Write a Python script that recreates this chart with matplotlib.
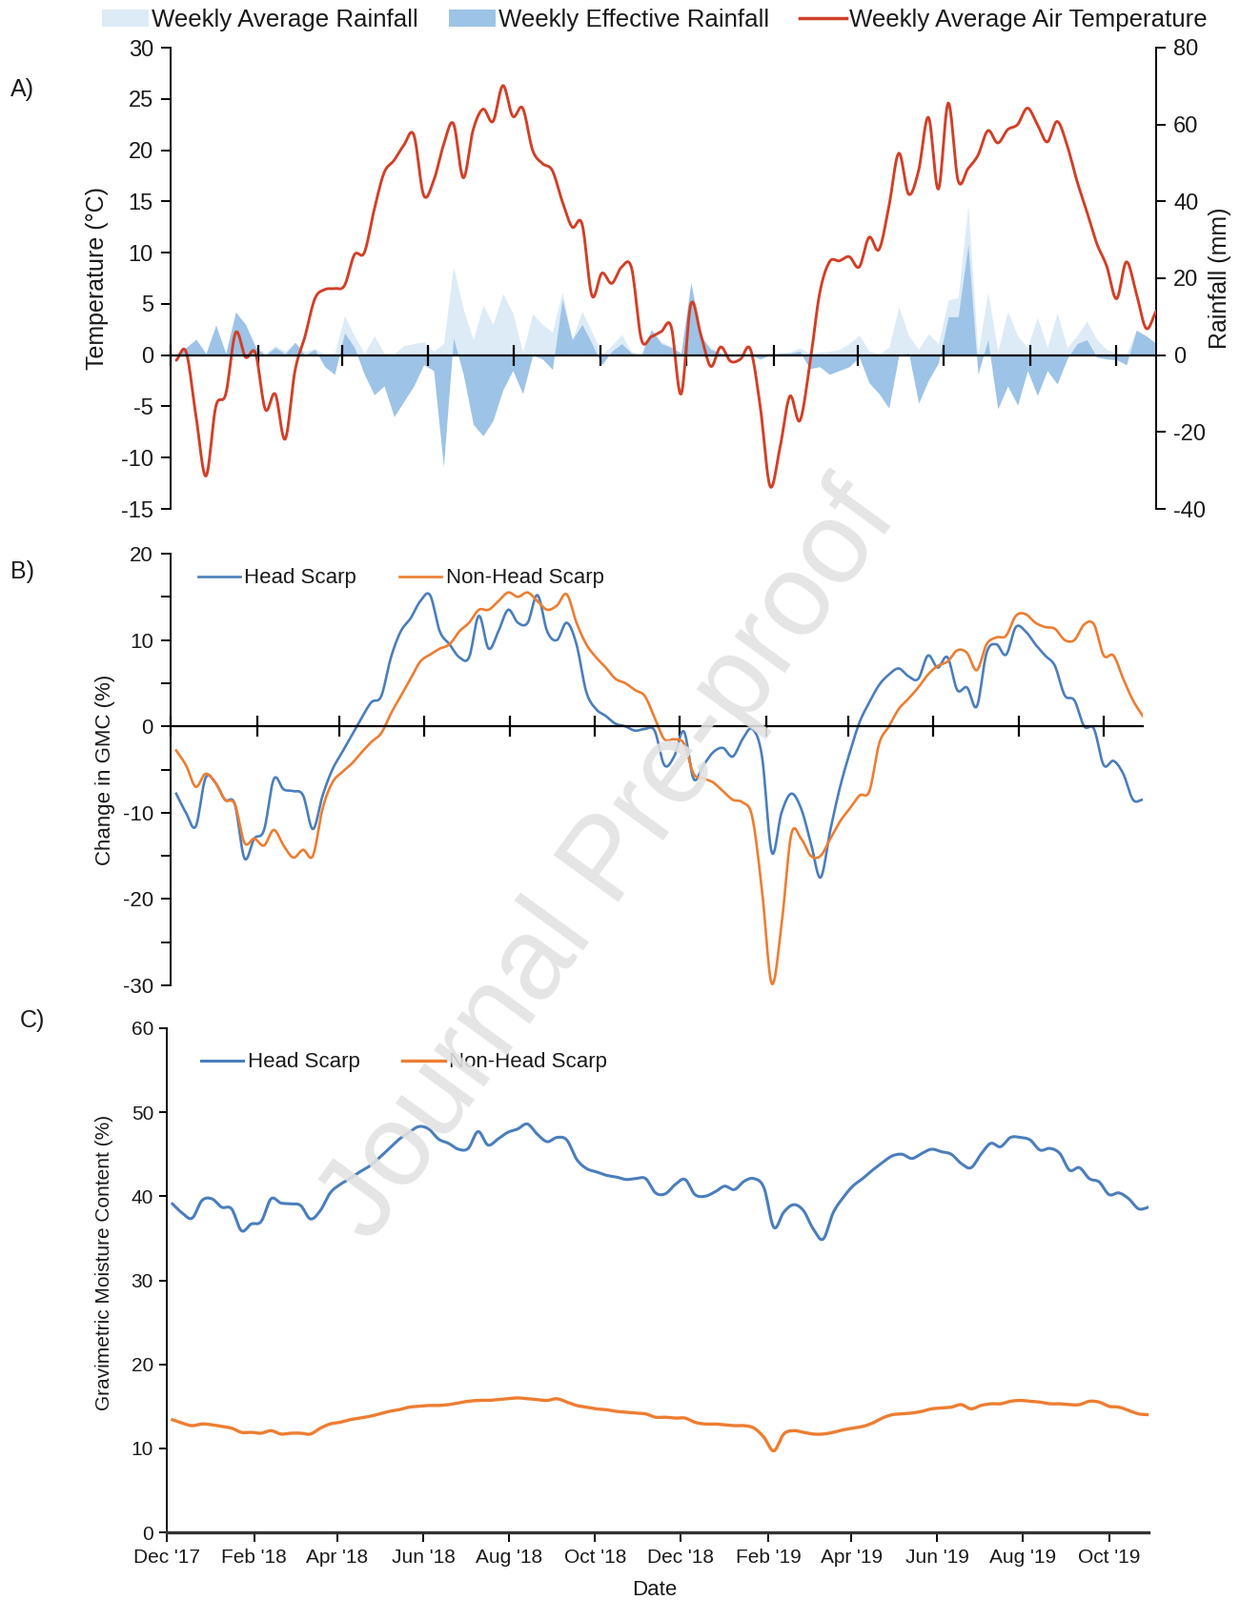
import numpy as np
import matplotlib
matplotlib.use('Agg')
import matplotlib.pyplot as plt
import matplotlib.dates as mdates
from matplotlib.patches import Patch
from matplotlib.lines import Line2D
import datetime as dt

plt.rcParams['font.family'] = ['Liberation Sans', 'DejaVu Sans']
plt.rcParams['axes.unicode_minus'] = False

# ---------------- data (weekly) ----------------
start_date = dt.date(2017, 12, 5)
n_weeks = 100
x_start = dt.date(2017, 12, 1)
x_end = dt.date(2019, 10, 29)

temp = [
    -0.5, 0.3, -6.0, -11.8, -5.0, -3.8, 2.2, -0.2, 0.2, -5.3,
    -3.8, -8.2, -1.5, 1.8, 5.5, 6.4, 6.5, 6.8, 9.8, 10.0,
    14.2, 17.8, 19.0, 20.5, 21.5, 15.6, 17.0, 20.5, 22.6, 17.3,
    22.0, 24.0, 22.8, 26.3, 23.3, 24.1, 20.0, 18.7, 18.0, 15.0,
    12.5, 12.8, 5.8, 8.0, 7.0, 8.6, 8.5, 1.5, 1.8, 2.3,
    2.8, -3.8, 5.0, 2.0, -1.1, 0.8, -0.6, -0.4, 0.6, -5.0,
    -12.8, -9.0, -4.0, -6.4, -1.0, 6.0, 9.1, 9.2, 9.6, 8.6,
    11.5, 10.3, 14.5, 19.7, 15.7, 18.0, 23.2, 16.2, 24.6, 17.0,
    18.2, 19.5, 21.9, 20.7, 22.0, 22.5, 24.1, 22.5, 20.8, 22.8,
    20.5, 17.0, 14.0, 10.9, 8.7, 5.5, 9.1, 6.0, 2.6, 4.3]

avg_rain = [
    0.5, 2.0, 4.1, 0.5, 7.8, 0.5, 11.2, 8.0, 2.5, 0.5,
    2.5, 1.0, 3.3, 1.0, 1.7, 0.3, 0.5, 10.3, 5.0, 0.5,
    5.0, 0.5, 0.3, 2.5, 3.0, 3.5, 1.0, 3.0, 23.0, 12.0,
    4.0, 13.0, 8.0, 16.0, 11.0, 0.8, 10.7, 8.0, 6.0, 16.5,
    4.0, 11.5, 6.0, 0.3, 2.5, 5.4, 0.8, 0.5, 6.6, 3.5,
    2.3, 0.5, 19.0, 5.0, 2.0, 0.5, 0.2, 0.1, 0.1, 0.2,
    0.5, 0.5, 0.8, 1.9, 0.5, 0.8, 1.0, 1.5, 3.0, 5.2,
    1.0, 0.3, 2.0, 12.6, 5.0, 1.5, 5.6, 3.0, 14.3, 15.0,
    39.0, 0.5, 16.4, 1.0, 11.4, 5.0, 2.0, 9.8, 2.0, 11.0,
    2.0, 5.0, 8.9, 4.0, 1.5, 0.5, 0.3, 6.5, 5.0, 3.0]

eff_rain = [
    0.0, 2.0, 4.1, 0.4, 7.8, 0.4, 11.2, 8.0, 2.0, 0.0,
    2.0, 0.3, 3.3, 0.0, 1.5, -3.0, -5.0, 5.8, 2.0, -5.0,
    -10.3, -8.0, -16.0, -12.0, -8.0, -2.5, -4.0, -29.0, 4.5, -5.0,
    -18.0, -21.0, -17.0, -9.0, -4.0, -10.0, 0.0, -1.0, -3.7, 14.5,
    4.0, 8.0, 3.0, -2.5, 1.0, 3.0, 0.5, 0.0, 6.6, 3.0,
    2.0, 0.5, 18.8, 4.8, 1.5, 0.5, 0.2, 0.0, 0.0, -1.0,
    0.0, 0.5, 0.5, 1.0, -3.5, -3.0, -5.0, -4.0, -3.0, -0.5,
    -7.2, -10.0, -13.8, 0.0, 0.5, -12.5, -6.5, -2.0, 10.0, 10.0,
    28.8, -5.0, 4.0, -14.0, -8.0, -13.0, -4.0, -10.5, -4.0, -7.5,
    -1.0, 3.0, 4.0, -0.5, -1.0, -1.2, -2.5, 6.5, 5.0, 3.0]

hs_change = [
    -7.8, -10.0, -11.6, -6.0, -6.5, -8.5, -9.0, -15.3, -13.0, -12.0,
    -6.1, -7.3, -7.5, -8.0, -11.9, -8.0, -5.0, -3.0, -1.0, 1.0,
    2.8, 3.5, 8.0, 11.0, 12.5, 14.5, 15.2, 11.0, 9.5, 8.0,
    8.0, 12.8, 9.0, 11.0, 13.5, 12.0, 12.0, 15.2, 11.0, 10.0,
    12.0, 9.5, 4.0, 2.0, 1.2, 0.3, 0.0, -0.5, -0.3, -0.5,
    -4.5, -3.5, -0.6, -6.1, -4.5, -3.0, -2.5, -3.5, -1.5, -0.3,
    -3.5, -14.6, -10.0, -7.8, -9.5, -13.5, -17.5, -12.0, -7.0, -3.0,
    0.5, 2.8, 4.8, 6.0, 6.7, 5.8, 5.5, 8.2, 6.8, 8.0,
    4.2, 4.5, 2.3, 8.5, 9.5, 8.3, 11.5, 11.0, 9.5, 8.2,
    7.0, 3.6, 3.0, 0.0, -0.3, -4.5, -4.0, -5.5, -8.5, -8.5]

nhs_change = [
    -2.8, -4.5, -7.0, -5.5, -6.5, -8.5, -9.0, -13.5, -13.0, -13.8,
    -12.0, -13.8, -15.2, -14.3, -15.0, -9.5, -6.5, -5.3, -4.3, -3.0,
    -1.8, -0.8, 1.5, 3.5, 5.5, 7.5, 8.3, 9.0, 9.5, 11.0,
    12.0, 13.5, 13.5, 14.5, 15.5, 15.0, 15.5, 14.5, 13.5, 14.0,
    15.3, 12.0, 9.5, 8.0, 6.8, 5.5, 5.0, 4.2, 3.5, 1.0,
    -1.5, -1.5, -2.0, -5.5, -6.0, -6.5, -7.5, -8.5, -8.8, -10.5,
    -19.0, -29.8, -23.0, -12.5, -13.0, -15.0, -15.0, -13.0, -11.0, -9.5,
    -8.0, -7.5, -2.0, 0.0, 2.0, 3.2, 4.5, 6.0, 7.0, 7.5,
    8.8, 8.5, 6.5, 9.5, 10.3, 10.5, 12.8, 13.0, 12.0, 11.5,
    11.3, 10.0, 10.0, 11.8, 11.8, 8.2, 8.2, 5.5, 3.0, 1.2]

hs_gmc = [
    39.1, 38.0, 37.4, 39.5, 39.7, 38.7, 38.5, 35.9, 36.7, 37.0,
    39.7, 39.2, 39.1, 38.9, 37.3, 38.3, 40.4, 41.4, 42.1, 42.9,
    43.6, 44.6, 45.7, 46.8, 47.6, 48.3, 48.0, 46.8, 46.3, 45.6,
    45.7, 47.7, 46.1, 46.8, 47.6, 48.0, 48.6, 47.4, 46.5, 47.0,
    46.7, 44.4, 43.3, 42.9, 42.5, 42.3, 42.0, 42.1, 42.1, 40.4,
    40.3, 41.4, 42.0, 40.2, 40.0, 40.5, 41.2, 40.8, 41.8, 42.1,
    41.0, 36.3, 38.1, 39.0, 38.3, 36.1, 34.9, 38.0, 39.8, 41.2,
    42.1, 43.1, 44.0, 44.8, 45.0, 44.5, 45.1, 45.6, 45.3, 45.0,
    43.9, 43.4, 45.0, 46.3, 45.9, 47.0, 47.0, 46.7, 45.5, 45.7,
    45.1, 43.1, 43.4, 42.1, 41.7, 40.2, 40.4, 39.7, 38.5, 38.7]

nhs_gmc = [
    13.4, 13.0, 12.7, 12.9, 12.8, 12.6, 12.4, 11.9, 11.9, 11.8,
    12.1, 11.7, 11.8, 11.8, 11.7, 12.4, 12.9, 13.1, 13.4, 13.6,
    13.8, 14.1, 14.4, 14.6, 14.9, 15.0, 15.1, 15.1, 15.2, 15.4,
    15.6, 15.7, 15.7, 15.8, 15.9, 16.0, 15.9, 15.8, 15.7, 15.9,
    15.5, 15.1, 14.9, 14.7, 14.6, 14.4, 14.3, 14.2, 14.1, 13.7,
    13.7, 13.6, 13.6, 13.1, 12.9, 12.9, 12.8, 12.7, 12.7, 12.4,
    11.3, 9.7, 11.7, 12.1, 11.9, 11.7, 11.7, 11.9, 12.2, 12.4,
    12.6, 13.0, 13.6, 14.0, 14.1, 14.2, 14.4, 14.7, 14.8, 14.9,
    15.2, 14.7, 15.1, 15.3, 15.3, 15.6, 15.7, 15.6, 15.5, 15.3,
    15.3, 15.2, 15.2, 15.6, 15.5, 15.0, 14.9, 14.5, 14.1, 14.0]

legend_A = ['Weekly Average Rainfall', 'Weekly Effective Rainfall',
            'Weekly Average Air Temperature']
legend_BC = ['Head Scarp', 'Non-Head Scarp']

# ---------------- styling ----------------
C_LIGHT = '#DDEBF7'
C_DARK = '#9DC3E6'
C_RED = '#D23F27'
C_BLUE = '#4A7EBB'
C_ORANGE = '#ED7D31'
TXT = '#1a1a1a'

W, H = 1301, 1679
fig = plt.figure(figsize=(W / 100, H / 100), dpi=100)


def rect(l, r, t, b):
    return [l / W, 1 - b / H, (r - l) / W, (b - t) / H]


def smooth(xv, yv, n=12):
    """Excel-like smoothed line (Catmull-Rom Bezier) for drawing."""
    xv = np.asarray(xv, float)
    yv = np.asarray(yv, float)
    px = np.concatenate([[2 * xv[0] - xv[1]], xv, [2 * xv[-1] - xv[-2]]])
    py = np.concatenate([[2 * yv[0] - yv[1]], yv, [2 * yv[-1] - yv[-2]]])
    t = np.linspace(0, 1, n, endpoint=False)[:, None]
    out = []
    for p in (px, py):
        P0, P1, P2, P3 = p[:-3], p[1:-2], p[2:-1], p[3:]
        C1 = P1 + (P2 - P0) / 6.0
        C2 = P2 - (P3 - P1) / 6.0
        B = ((1 - t) ** 3) * P1 + 3 * (1 - t) ** 2 * t * C1 + 3 * (1 - t) * t ** 2 * C2 + t ** 3 * P2
        seq = B.T.ravel()
        out.append(np.concatenate([seq, [p[-2]]]))
    return out[0], out[1]


dates = [start_date + dt.timedelta(days=7 * i) for i in range(n_weeks)]
x = mdates.date2num(dates)
xlim = (mdates.date2num(x_start), mdates.date2num(x_end))
month_loc = mdates.MonthLocator(bymonth=[2, 4, 6, 8, 10, 12])

# ================= Panel A =================
axA = fig.add_axes(rect(179, 1213, 50, 534))
axR = axA.twinx()
axR.fill_between(x, 0, avg_rain, color=C_LIGHT, lw=0)
axR.fill_between(x, 0, eff_rain, color=C_DARK, lw=0)
axA.set_zorder(axR.get_zorder() + 1)
axA.patch.set_visible(False)
sx, sy = smooth(x, temp)
axA.plot(sx, sy, color=C_RED, lw=2.1, solid_capstyle='round')

axA.set_xlim(*xlim)
axA.set_ylim(-15, 30)
axR.set_ylim(-40, 80)
axA.set_yticks(range(-15, 31, 5))
axR.set_yticks(range(-40, 81, 20))
for s in ['top', 'right']:
    axA.spines[s].set_visible(False)
for s in ['top', 'left', 'bottom']:
    axR.spines[s].set_visible(False)
axA.spines['bottom'].set_position(('data', 0))
axA.spines['bottom'].set_linewidth(1.6)
axA.spines['left'].set_linewidth(1.4)
axR.spines['right'].set_linewidth(1.4)
axA.xaxis.set_major_locator(month_loc)
axA.tick_params(axis='x', direction='inout', length=16, width=1.6, labelbottom=False)
axA.tick_params(axis='y', direction='out', length=7, width=1.4, labelsize=17, pad=6, labelcolor=TXT)
axR.tick_params(axis='y', direction='out', length=7, width=1.4, labelsize=17, pad=6, labelcolor=TXT)
axA.set_ylabel('Temperature (°C)', fontsize=18, color=TXT)
axA.yaxis.set_label_coords(-0.063, 0.5)
axR.set_ylabel('Rainfall (mm)', fontsize=18, color=TXT)
axR.yaxis.set_label_coords(1.053, 0.5)

handles_A = [Patch(facecolor=C_LIGHT, edgecolor='none'),
             Patch(facecolor=C_DARK, edgecolor='none'),
             Line2D([], [], color=C_RED, lw=2.5)]
fig.legend(handles_A, legend_A, loc='center', bbox_to_anchor=(0.528, 1 - 21 / H),
           ncol=3, frameon=False, fontsize=18.6, handlelength=1.9, handletextpad=0.1,
           columnspacing=1.25, borderpad=0, labelcolor=TXT)

# ================= Panel B =================
axB = fig.add_axes(rect(179, 1199, 581, 1034))
bx, by = smooth(x, hs_change)
axB.plot(bx, by, color=C_BLUE, lw=1.9, label=legend_BC[0])
ox, oy = smooth(x, nhs_change)
axB.plot(ox, oy, color=C_ORANGE, lw=1.9, label=legend_BC[1])
axB.set_xlim(*xlim)
axB.set_ylim(-30, 20)
axB.set_yticks(range(-30, 21, 10))
axB.set_yticks(range(-25, 20, 10), minor=True)
for s in ['top', 'right']:
    axB.spines[s].set_visible(False)
axB.spines['bottom'].set_position(('data', 0))
axB.spines['bottom'].set_linewidth(1.6)
axB.spines['left'].set_linewidth(1.4)
axB.xaxis.set_major_locator(month_loc)
axB.tick_params(axis='x', direction='inout', length=16, width=1.6, labelbottom=False)
axB.tick_params(axis='y', which='both', direction='out', length=7, width=1.4,
                labelsize=16, pad=6, labelcolor=TXT)
axB.set_ylabel('Change in GMC (%)', fontsize=16, color=TXT)
axB.yaxis.set_label_coords(-0.057, 0.5)
axB.legend(loc='center left', bbox_to_anchor=(0.028, 0.943), ncol=2, frameon=False,
           fontsize=16, handlelength=2.0, handletextpad=0.2, columnspacing=2.0,
           borderpad=0, borderaxespad=0, labelcolor=TXT)

# ================= Panel C =================
axC = fig.add_axes(rect(175, 1205, 1079, 1608))
cx, cy = smooth(x, hs_gmc)
axC.plot(cx, cy, color=C_BLUE, lw=2.2, label=legend_BC[0])
dx, dy = smooth(x, nhs_gmc)
axC.plot(dx, dy, color=C_ORANGE, lw=2.4, label=legend_BC[1])
axC.set_xlim(*xlim)
axC.set_ylim(0, 60)
axC.set_yticks(range(0, 61, 10))
for s in ['top', 'right']:
    axC.spines[s].set_visible(False)
axC.spines['bottom'].set_linewidth(2.4)
axC.spines['bottom'].set_color('#333333')
axC.spines['left'].set_linewidth(1.4)
axC.xaxis.set_major_locator(month_loc)
axC.xaxis.set_major_formatter(mdates.DateFormatter("%b '%y"))
axC.tick_params(axis='x', direction='out', length=7, width=1.4, labelsize=15, pad=5,
                labelcolor=TXT)
axC.tick_params(axis='y', direction='out', length=6, width=1.4, labelsize=15, pad=4,
                labelcolor=TXT)
axC.set_ylabel('Gravimetric Moisture Content (%)', fontsize=15, color=TXT)
axC.yaxis.set_label_coords(-0.054, 0.535)
axC.set_xlabel('Date', fontsize=16, color=TXT)
axC.xaxis.set_label_coords(0.497, -0.094)
axC.legend(loc='center left', bbox_to_anchor=(0.035, 0.932), ncol=2, frameon=False,
           fontsize=16, handlelength=2.0, handletextpad=0.2, columnspacing=2.0,
           borderpad=0, borderaxespad=0, labelcolor=TXT)

# panel letters
fig.text(11 / W, 1 - 94 / H, 'A)', fontsize=18, va='center', ha='left', color=TXT)
fig.text(11 / W, 1 - 600 / H, 'B)', fontsize=18, va='center', ha='left', color=TXT)
fig.text(21 / W, 1 - 1071 / H, 'C)', fontsize=18, va='center', ha='left', color=TXT)

# watermark
fig.text(640 / W, 1 - 905 / H, 'Journal Pre-proof', fontsize=88, rotation=54,
         color='#e2e2e2', alpha=0.9, ha='center', va='center', zorder=100,
         rotation_mode='anchor')

fig.savefig('out.png', dpi=100, facecolor='white')
